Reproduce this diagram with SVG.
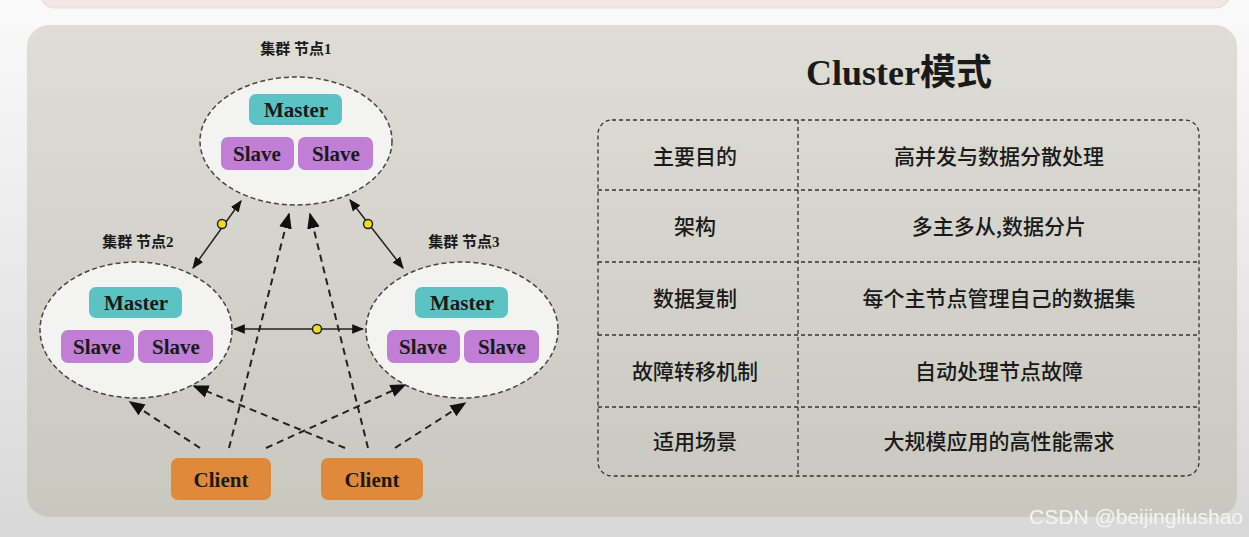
<svg xmlns="http://www.w3.org/2000/svg" width="1249" height="537" viewBox="0 0 1249 537">
<defs>
<linearGradient id="bg" x1="0" y1="0" x2="0" y2="1"><stop offset="0" stop-color="#fafafa"/><stop offset="1" stop-color="#d8d8d8"/></linearGradient>
<linearGradient id="pn" x1="0" y1="0" x2="0" y2="1"><stop offset="0" stop-color="#deded7"/><stop offset="1" stop-color="#c8c8bf"/></linearGradient>
<marker id="ah" viewBox="0 0 10 10" refX="9" refY="5" markerWidth="8" markerHeight="8" orient="auto-start-reverse"><path d="M0,1 L10,5 L0,9 z" fill="#111"/></marker>
<style>
.ell{fill:#f3f3f1;stroke:#444;stroke-width:1.5;stroke-dasharray:5 3}
.m{fill:#5bc3c3}.s{fill:#c07ed4}.c{fill:#e0893a}
.t{font-family:"Liberation Serif","Noto Sans CJK SC",serif;font-weight:bold;fill:#1a1a1a;text-anchor:middle}
.b{font-size:21px}
.lab{font-size:15px}
.cn{font-family:"Noto Sans CJK SC",sans-serif;font-weight:500;font-size:21px;fill:#1a1a1a;text-anchor:middle}
.sol{stroke:#222;stroke-width:1.5;fill:none}
.dsh{stroke:#222;stroke-width:2;stroke-dasharray:7 5;fill:none}
.dot{fill:#f0dc1e;stroke:#222;stroke-width:1.5}
.grid{stroke:#333;stroke-width:1.3;stroke-dasharray:4 3;fill:none}
</style>
</defs>
<rect width="1249" height="537" fill="url(#bg)"/>
<rect x="40" y="-20" width="1190" height="28" rx="14" fill="#f3e6e8" stroke="#e8d8da"/>
<rect x="27" y="25" width="1210" height="492" rx="22" fill="url(#pn)"/>
<g id="connectors">
<line class="sol" x1="241" y1="201" x2="193" y2="268" marker-start="url(#ah)" marker-end="url(#ah)"/>
<line class="sol" x1="350" y1="200" x2="403" y2="268" marker-start="url(#ah)" marker-end="url(#ah)"/>
<line class="sol" x1="234" y1="329" x2="363" y2="329" marker-start="url(#ah)" marker-end="url(#ah)"/>
<line class="dsh" x1="229" y1="448" x2="289" y2="214" marker-end="url(#ah)"/>
<line class="dsh" x1="368" y1="448" x2="310" y2="214" marker-end="url(#ah)"/>
<line class="dsh" x1="200" y1="448" x2="130" y2="402" marker-end="url(#ah)"/>
<line class="dsh" x1="266" y1="448" x2="405" y2="385" marker-end="url(#ah)"/>
<line class="dsh" x1="345" y1="448" x2="194" y2="386" marker-end="url(#ah)"/>
<line class="dsh" x1="395" y1="448" x2="465" y2="403" marker-end="url(#ah)"/>
<circle class="dot" cx="222" cy="224" r="4.5"/>
<circle class="dot" cx="368" cy="224" r="4.5"/>
<circle class="dot" cx="317" cy="329" r="4.5"/>
</g>
<g id="node1">
<text class="t lab" x="296" y="54">集群 节点1</text>
<ellipse class="ell" cx="296" cy="141" rx="96" ry="64"/>
<rect class="m" x="249" y="94" width="93" height="31" rx="7"/><text class="t b" x="296" y="117">Master</text>
<rect class="s" x="221" y="137" width="73" height="33" rx="7"/><text class="t b" x="257" y="161">Slave</text>
<rect class="s" x="298" y="137" width="75" height="33" rx="7"/><text class="t b" x="336" y="161">Slave</text>
</g>
<g id="node2">
<text class="t lab" x="138" y="247">集群 节点2</text>
<ellipse class="ell" cx="136" cy="330" rx="96" ry="68"/>
<rect class="m" x="89" y="287" width="93" height="31" rx="7"/><text class="t b" x="136" y="310">Master</text>
<rect class="s" x="61" y="330" width="73" height="33" rx="7"/><text class="t b" x="97" y="354">Slave</text>
<rect class="s" x="138" y="330" width="75" height="33" rx="7"/><text class="t b" x="176" y="354">Slave</text>
</g>
<g id="node3">
<text class="t lab" x="464" y="247">集群 节点3</text>
<ellipse class="ell" cx="462" cy="330" rx="96" ry="68"/>
<rect class="m" x="415" y="287" width="93" height="31" rx="7"/><text class="t b" x="462" y="310">Master</text>
<rect class="s" x="387" y="330" width="73" height="33" rx="7"/><text class="t b" x="423" y="354">Slave</text>
<rect class="s" x="464" y="330" width="75" height="33" rx="7"/><text class="t b" x="502" y="354">Slave</text>
</g>
<g id="client1"><rect class="c" x="171" y="458" width="100" height="42" rx="7"/><text class="t b" x="221" y="487">Client</text></g>
<g id="client2"><rect class="c" x="321" y="458" width="102" height="42" rx="7"/><text class="t b" x="372" y="487">Client</text></g>
<g id="table">
<text class="t" x="899" y="85" font-size="36" font-weight="600">Cluster模式</text>
<rect class="grid" x="598" y="120" width="601" height="356" rx="14"/>
<line class="grid" x1="798" y1="120" x2="798" y2="476"/>
<line class="grid" x1="598" y1="190" x2="1199" y2="190"/>
<line class="grid" x1="598" y1="262" x2="1199" y2="262"/>
<line class="grid" x1="598" y1="335" x2="1199" y2="335"/>
<line class="grid" x1="598" y1="407" x2="1199" y2="407"/>
<text class="cn" x="695" y="164">主要目的</text><text class="cn" x="999" y="164">高并发与数据分散处理</text>
<text class="cn" x="695" y="234">架构</text><text class="cn" x="999" y="234">多主多从,数据分片</text>
<text class="cn" x="695" y="306">数据复制</text><text class="cn" x="999" y="306">每个主节点管理自己的数据集</text>
<text class="cn" x="695" y="379">故障转移机制</text><text class="cn" x="999" y="379">自动处理节点故障</text>
<text class="cn" x="695" y="449">适用场景</text><text class="cn" x="999" y="449">大规模应用的高性能需求</text>
</g>
<text x="1243" y="524" font-family="Liberation Sans,sans-serif" font-size="21" fill="#f4f4f4" text-anchor="end">CSDN @beijingliushao</text>
</svg>
